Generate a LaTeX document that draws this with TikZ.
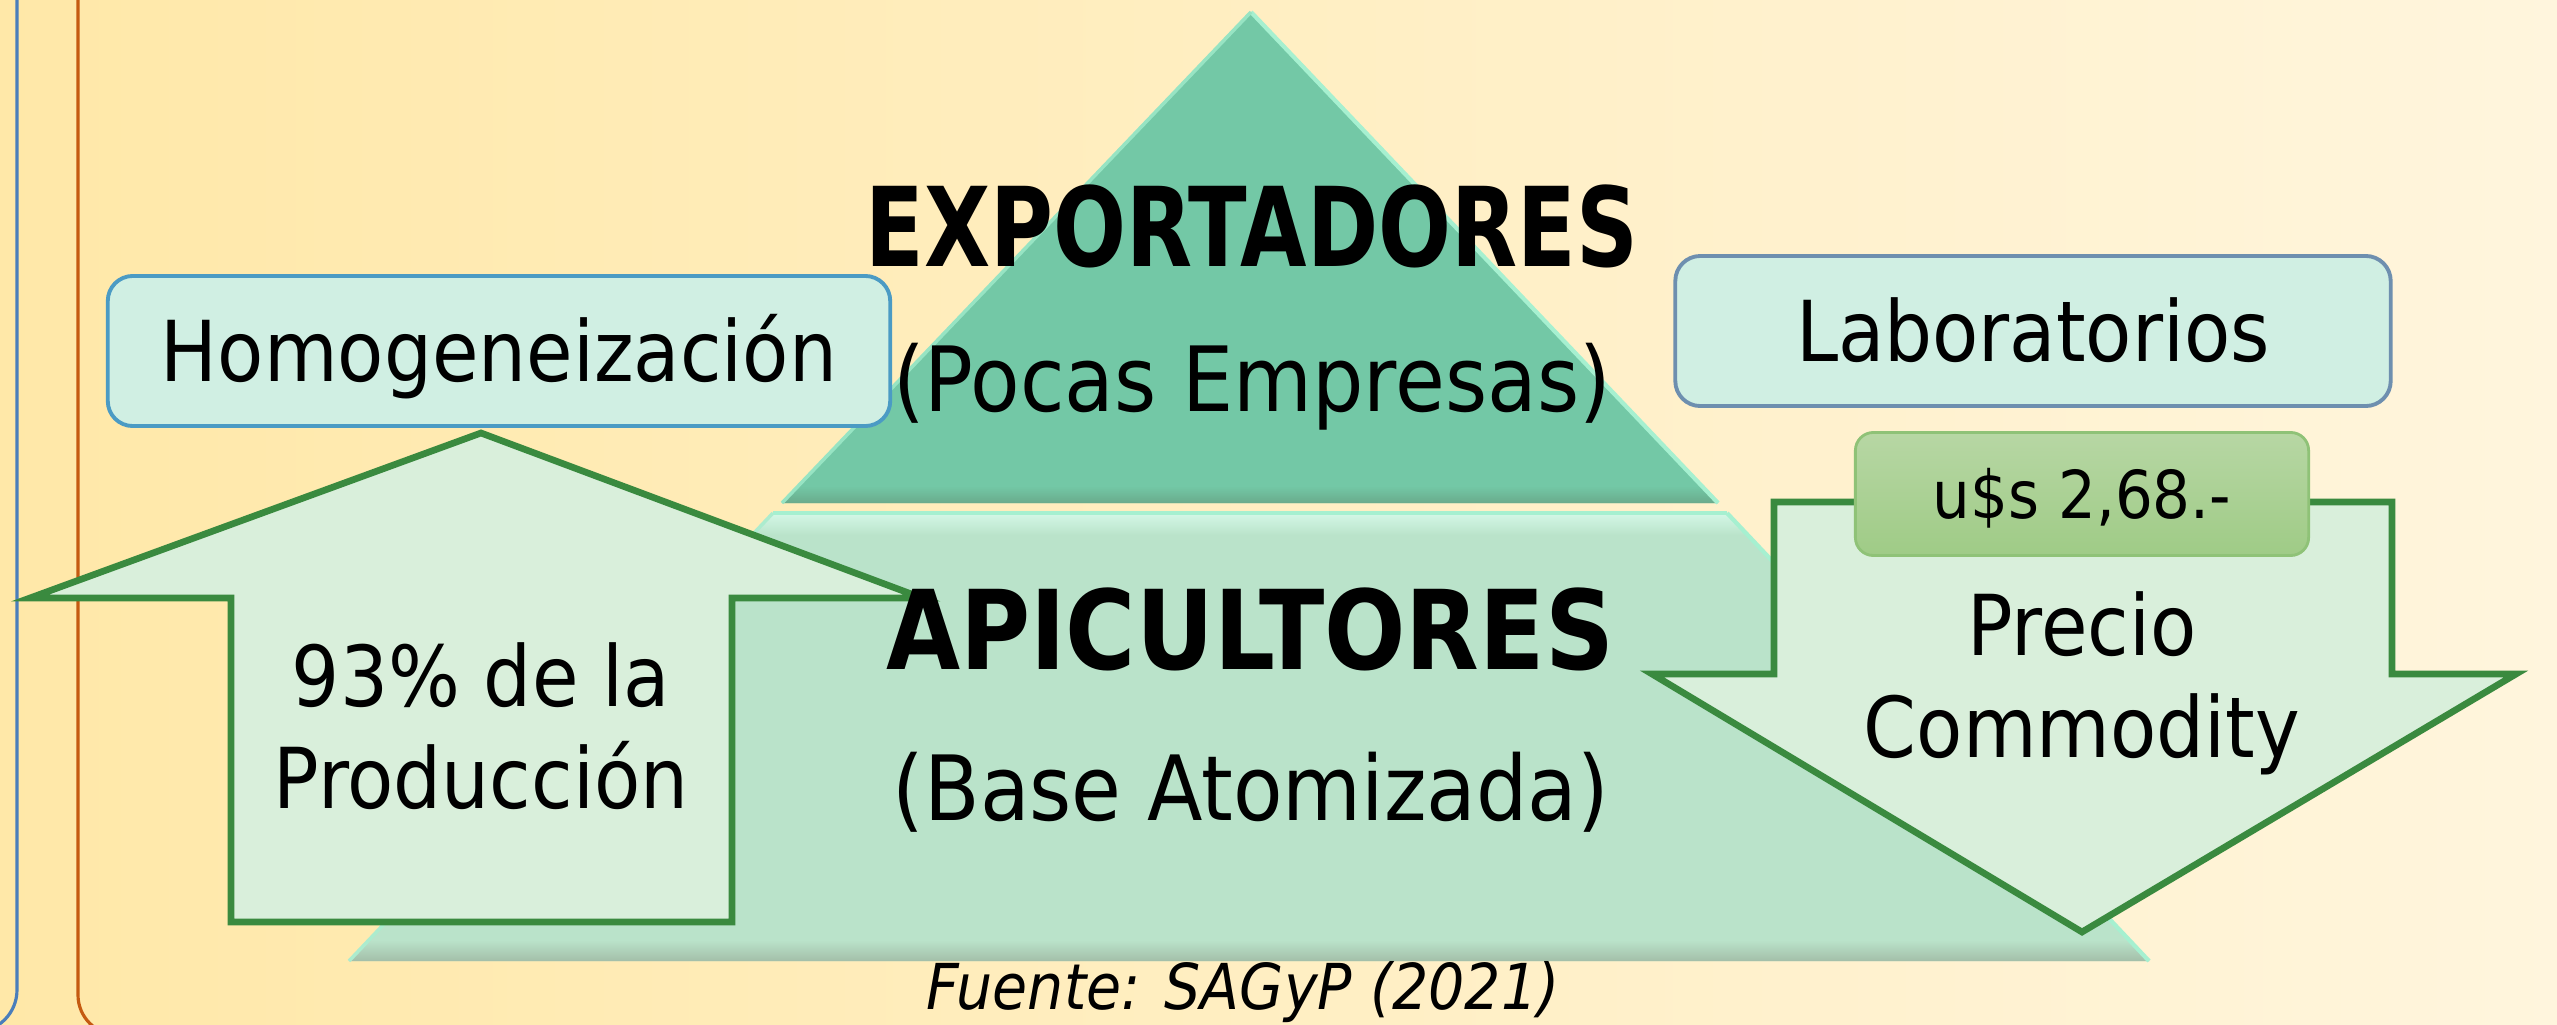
\documentclass[tikz,border=0pt]{standalone}
\usepackage{fontspec}
\setmainfont{DejaVu Sans}[FakeStretch=0.9]
\newfontfamily\boldfam{DejaVu Sans}[FakeStretch=0.78]
\newfontfamily\boldfamw{DejaVu Sans}[FakeStretch=0.87]
\definecolor{bgL}{HTML}{FFE8A8}
\definecolor{bgR}{HTML}{FFF5DD}
\definecolor{frameblue}{HTML}{4A7EBB}
\definecolor{frameorange}{HTML}{C55A11}
\definecolor{tiertop}{HTML}{73C8A6}
\definecolor{tiertopdark}{HTML}{69A98A}
\definecolor{tierbot}{HTML}{BAE3CA}
\definecolor{tierbotlight}{HTML}{D4F8E7}
\definecolor{tierbotdark}{HTML}{A2BDA7}
\definecolor{edgelight}{HTML}{A6F0D0}
\definecolor{arrowline}{HTML}{3A8A3F}
\definecolor{arrowfill}{HTML}{D9EFDB}
\definecolor{boxfill}{HTML}{D0EFE3}
\definecolor{boxblue}{HTML}{4B9BC4}
\definecolor{boxgrey}{HTML}{6E8FAF}
\definecolor{priceTop}{HTML}{B7D7A4}
\definecolor{priceBot}{HTML}{9FCB86}
\definecolor{priceLine}{HTML}{8FC277}
\tikzset{
  tb/.style={anchor=base, inner sep=0pt},
  regtext/.style={font=\fontsize{23.9}{29}\selectfont},
  partext/.style={font=\fontsize{25.6}{30}\selectfont},
  bigtext/.style={font=\boldfam\bfseries\fontsize{31.3}{36}\selectfont},
  bigtextw/.style={font=\boldfamw\bfseries\fontsize{31.3}{36}\selectfont},
  arrowshape/.style={draw=arrowline, fill=arrowfill, line width=1.9pt, line join=miter},
  labelbox/.style={rounded corners=0.25cm, fill=boxfill, line width=1.1pt, inner sep=0pt,
    text height=17.4pt, text depth=0pt, font=\fontsize{23.9}{29}\selectfont},
  pricebox/.style={rounded corners=0.18cm, top color=priceTop, bottom color=priceBot, draw=priceLine,
    line width=0.8pt, inner sep=0pt, text height=13.7pt, text depth=0pt, font=\fontsize{18.8}{22}\selectfont}
}
\begin{document}
\begin{tikzpicture}[x=0.01cm,y=-0.01cm]
\useasboundingbox (0,0) rectangle (2557,1024);
% background
\shade[left color=bgL, right color=bgR] (0,0) rectangle (2557,1024);
% frame lines
\draw[frameblue, line width=0.9pt, rounded corners=0.42cm] (17,-20) -- (17,1032) -- (-80,1032);
\draw[frameorange, line width=0.9pt, rounded corners=0.40cm] (78,-20) -- (78,1035) -- (250,1035);
% pyramid top tier
\fill[tiertop] (1251,12) -- (1718,503) -- (782,503) -- cycle;
\begin{scope}
  \clip (1251,12) -- (1718,503) -- (782,503) -- cycle;
  \shade[top color=tiertop, bottom color=tiertopdark] (700,486) rectangle (1800,504);
\end{scope}
\draw[edgelight, line width=1.2pt] (1251,12) -- (1718,503);
\draw[edgelight!70!tiertop, line width=1.0pt] (1251,12) -- (782,503);
% pyramid bottom tier
\fill[tierbot] (773,513) -- (1727,513) -- (2149,961) -- (349,961) -- cycle;
\begin{scope}
  \clip (773,513) -- (1727,513) -- (2149,961) -- (349,961) -- cycle;
  \shade[top color=tierbotlight, bottom color=tierbot] (300,513) rectangle (2200,535);
  \shade[top color=tierbot, bottom color=tierbotdark] (300,940) rectangle (2200,962);
\end{scope}
\draw[edgelight, line width=1.2pt] (1727,513) -- (2149,961);
\draw[edgelight!70!tierbot, line width=1.0pt] (773,513) -- (349,961);
\draw[edgelight, line width=1.0pt] (773,513) -- (1727,513);
% up arrow
\draw[arrowshape] (481,433) -- (922,598) -- (732,598) -- (732,922) -- (231,922) -- (231,598) -- (30,598) -- cycle;
% down arrow
\draw[arrowshape] (1774,502) -- (2392,502) -- (2392,674) -- (2516,674) -- (2082,932) -- (1652,674) -- (1774,674) -- cycle;
% boxes
\node[labelbox, draw=boxblue, minimum width=7.82cm, minimum height=1.50cm] (homog) at (499,351) {Homogeneización};
\node[labelbox, draw=boxgrey, minimum width=7.15cm, minimum height=1.50cm] (labs) at (2033,331) {Laboratorios};
\node[pricebox, minimum width=4.53cm, minimum height=1.23cm] (price) at (2082,494) {u\$s 2,68.-};
% texts
\node[tb, bigtext] (exp) at (1252,266) {EXPORTADORES};
\node[tb, partext] (pocas) at (1252,411) {(Pocas Empresas)};
\node[tb, bigtextw] (api) at (1250,669) {APICULTORES};
\node[tb, partext] (base) at (1251,820) {(Base Atomizada)};
\node[tb, regtext, align=center] (prod) at (481,808) {93\% de la\\Producción};
\node[tb, regtext, align=center] (precio) at (2082,757) {Precio\\Commodity};
\node[tb, font=\itshape\fontsize{18}{21}\selectfont] (fuente) at (1243,1009) {Fuente: SAGyP (2021)};
\end{tikzpicture}
\end{document}
